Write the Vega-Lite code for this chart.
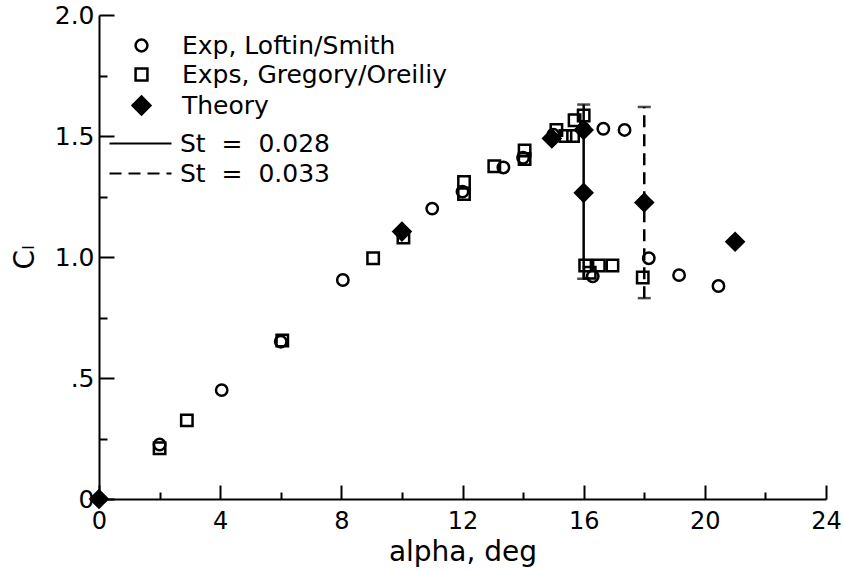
{
  "$schema": "https://vega.github.io/schema/vega-lite/v6.json",
  "width": 727,
  "height": 484,
  "autosize": "none",
  "padding": {"left": 99, "top": 15, "right": 18, "bottom": 71},
  "background": "white",
  "config": {
    "view": {"stroke": null},
    "font": "DejaVu Sans",
    "axis": {
      "domainColor": "black", "domainWidth": 2, "tickColor": "black", "tickWidth": 2,
      "labelColor": "black", "titleColor": "black", "labelFont": "DejaVu Sans", "titleFont": "DejaVu Sans",
      "labelFontSize": 24, "grid": false, "labelFlush": false, "labelOverlap": false, "titleFontWeight": "normal"
    },
    "legend": {"labelFont": "DejaVu Sans", "labelFontSize": 25, "labelColor": "black", "labelLimit": 0, "symbolStrokeColor": "black", "symbolStrokeWidth": 2.5}
  },
  "datasets": {
    "points": [
      {"alpha": 2.0, "cl": 0.225, "series": "Exp, Loftin/Smith"},
      {"alpha": 4.05, "cl": 0.45, "series": "Exp, Loftin/Smith"},
      {"alpha": 6.0, "cl": 0.65, "series": "Exp, Loftin/Smith"},
      {"alpha": 8.05, "cl": 0.905, "series": "Exp, Loftin/Smith"},
      {"alpha": 11.0, "cl": 1.2, "series": "Exp, Loftin/Smith"},
      {"alpha": 12.0, "cl": 1.27, "series": "Exp, Loftin/Smith"},
      {"alpha": 13.35, "cl": 1.37, "series": "Exp, Loftin/Smith"},
      {"alpha": 14.0, "cl": 1.41, "series": "Exp, Loftin/Smith"},
      {"alpha": 15.0, "cl": 1.505, "series": "Exp, Loftin/Smith"},
      {"alpha": 16.0, "cl": 1.53, "series": "Exp, Loftin/Smith"},
      {"alpha": 16.65, "cl": 1.53, "series": "Exp, Loftin/Smith"},
      {"alpha": 17.35, "cl": 1.525, "series": "Exp, Loftin/Smith"},
      {"alpha": 16.3, "cl": 0.92, "series": "Exp, Loftin/Smith"},
      {"alpha": 18.15, "cl": 0.995, "series": "Exp, Loftin/Smith"},
      {"alpha": 19.15, "cl": 0.925, "series": "Exp, Loftin/Smith"},
      {"alpha": 20.45, "cl": 0.88, "series": "Exp, Loftin/Smith"},
      {"alpha": 2.0, "cl": 0.21, "series": "Exps, Gregory/Oreiliy"},
      {"alpha": 2.9, "cl": 0.325, "series": "Exps, Gregory/Oreiliy"},
      {"alpha": 6.05, "cl": 0.655, "series": "Exps, Gregory/Oreiliy"},
      {"alpha": 9.05, "cl": 0.995, "series": "Exps, Gregory/Oreiliy"},
      {"alpha": 10.05, "cl": 1.08, "series": "Exps, Gregory/Oreiliy"},
      {"alpha": 12.05, "cl": 1.31, "series": "Exps, Gregory/Oreiliy"},
      {"alpha": 12.05, "cl": 1.26, "series": "Exps, Gregory/Oreiliy"},
      {"alpha": 13.05, "cl": 1.375, "series": "Exps, Gregory/Oreiliy"},
      {"alpha": 14.05, "cl": 1.44, "series": "Exps, Gregory/Oreiliy"},
      {"alpha": 14.05, "cl": 1.405, "series": "Exps, Gregory/Oreiliy"},
      {"alpha": 15.1, "cl": 1.525, "series": "Exps, Gregory/Oreiliy"},
      {"alpha": 15.4, "cl": 1.5, "series": "Exps, Gregory/Oreiliy"},
      {"alpha": 15.65, "cl": 1.5, "series": "Exps, Gregory/Oreiliy"},
      {"alpha": 15.7, "cl": 1.565, "series": "Exps, Gregory/Oreiliy"},
      {"alpha": 16.0, "cl": 1.585, "series": "Exps, Gregory/Oreiliy"},
      {"alpha": 16.05, "cl": 0.965, "series": "Exps, Gregory/Oreiliy"},
      {"alpha": 16.2, "cl": 0.935, "series": "Exps, Gregory/Oreiliy"},
      {"alpha": 16.5, "cl": 0.965, "series": "Exps, Gregory/Oreiliy"},
      {"alpha": 16.95, "cl": 0.965, "series": "Exps, Gregory/Oreiliy"},
      {"alpha": 17.95, "cl": 0.915, "series": "Exps, Gregory/Oreiliy"},
      {"alpha": 0.0, "cl": 0.0, "series": "Theory"},
      {"alpha": 10.0, "cl": 1.105, "series": "Theory"},
      {"alpha": 14.95, "cl": 1.49, "series": "Theory"},
      {"alpha": 16.0, "cl": 1.525, "series": "Theory"},
      {"alpha": 16.0, "cl": 1.265, "series": "Theory"},
      {"alpha": 18.0, "cl": 1.225, "series": "Theory"},
      {"alpha": 21.0, "cl": 1.063, "series": "Theory"}
    ],
    "bars": [
      {"alpha": 16, "lo": 0.91, "hi": 1.63, "st": "St\u00a0\u00a0=\u00a0\u00a00.028"},
      {"alpha": 18, "lo": 0.83, "hi": 1.62, "st": "St\u00a0\u00a0=\u00a0\u00a00.033"}
    ],
    "caps": [
      {"alpha": 16, "cl": 0.91},
      {"alpha": 16, "cl": 1.63},
      {"alpha": 18, "cl": 0.83},
      {"alpha": 18, "cl": 1.62}
    ]
  },
  "layer": [
    {
      "data": {"name": "bars"},
      "mark": {"type": "rule", "strokeWidth": 2.5, "color": "black"},
      "encoding": {
        "x": {"field": "alpha", "type": "quantitative", "scale": {"domain": [0, 24], "nice": false},
          "axis": {
            "orient": "bottom", "values": [0, 2, 4, 6, 8, 10, 12, 14, 16, 18, 20, 22, 24],
            "tickSize": {"condition": {"test": "datum.value % 4 !== 0", "value": -7}, "value": -14},
            "labelExpr": "datum.value % 4 === 0 ? datum.label : ''",
            "labelPadding": 24, "labelFontSize": 24,
            "title": "alpha, deg", "titleFontSize": 28, "titleY": 61, "titleBaseline": "alphabetic"
          }},
        "y": {"field": "lo", "type": "quantitative", "scale": {"domain": [0, 2], "nice": false},
          "axis": {
            "orient": "left", "values": [0, 0.25, 0.5, 0.75, 1, 1.25, 1.5, 1.75, 2],
            "tickSize": {"condition": {"test": "abs(datum.value*2 - round(datum.value*2)) > 0.01", "value": -8}, "value": -15},
            "labelExpr": "abs(datum.value*2 - round(datum.value*2)) > 0.01 ? '' : (datum.value === 0 ? '0' : (datum.value === 0.5 ? '.5' : format(datum.value, '.1f')))",
            "labelPadding": 20, "labelFontSize": 25,
            "title": "Cₗ", "titleFontSize": 28, "titleX": -74, "titleY": 242, "titleAngle": -90, "titleAlign": "center", "titleBaseline": "middle"
          }},
        "y2": {"field": "hi"},
        "strokeDash": {"field": "st", "type": "nominal",
          "scale": {"domain": ["St\u00a0\u00a0=\u00a0\u00a00.028", "St\u00a0\u00a0=\u00a0\u00a00.033"], "range": [[1, 0], [12, 7]]},
          "legend": {"title": null, "orient": "none", "legendX": 29, "legendY": 116, "padding": 0,
            "symbolType": "M-3,0H3", "symbolSize": 427, "symbolStrokeWidth": 2, "symbolStrokeColor": "black",
            "labelOffset": 27, "rowPadding": 4, "labelFontSize": 25}}
      }
    },
    {
      "data": {"name": "caps"},
      "mark": {"type": "tick", "orient": "horizontal", "size": 13, "thickness": 2.5, "color": "black"},
      "encoding": {
        "x": {"field": "alpha", "type": "quantitative"},
        "y": {"field": "cl", "type": "quantitative"}
      }
    },
    {
      "data": {"name": "points"},
      "mark": {"type": "point", "filled": false, "strokeWidth": 2.5, "opacity": 1, "size": 130},
      "encoding": {
        "x": {"field": "alpha", "type": "quantitative"},
        "y": {"field": "cl", "type": "quantitative"},
        "shape": {"field": "series", "type": "nominal",
          "scale": {"domain": ["Exp, Loftin/Smith", "Exps, Gregory/Oreiliy", "Theory"], "range": ["circle", "square", "M-1.5,0L0,-1.5L1.5,0L0,1.5Z"]},
          "legend": {"title": null, "orient": "none", "legendX": 30, "legendY": 18, "padding": 0,
            "symbolSize": 140, "symbolStrokeWidth": 2.5, "labelOffset": 28, "rowPadding": 3}},
        "fill": {"field": "series", "type": "nominal",
          "scale": {"domain": ["Exp, Loftin/Smith", "Exps, Gregory/Oreiliy", "Theory"], "range": ["transparent", "transparent", "black"]},
          "legend": {"title": null, "orient": "none", "legendX": 30, "legendY": 18, "padding": 0,
            "symbolSize": 140, "symbolStrokeWidth": 2.5, "labelOffset": 28, "rowPadding": 3}},
        "stroke": {"field": "series", "type": "nominal",
          "scale": {"domain": ["Exp, Loftin/Smith", "Exps, Gregory/Oreiliy", "Theory"], "range": ["black", "black", "black"]},
          "legend": {"title": null, "orient": "none", "legendX": 30, "legendY": 18, "padding": 0,
            "symbolSize": 140, "symbolStrokeWidth": 2.5, "labelOffset": 28, "rowPadding": 3}}
      }
    }
  ]
}
